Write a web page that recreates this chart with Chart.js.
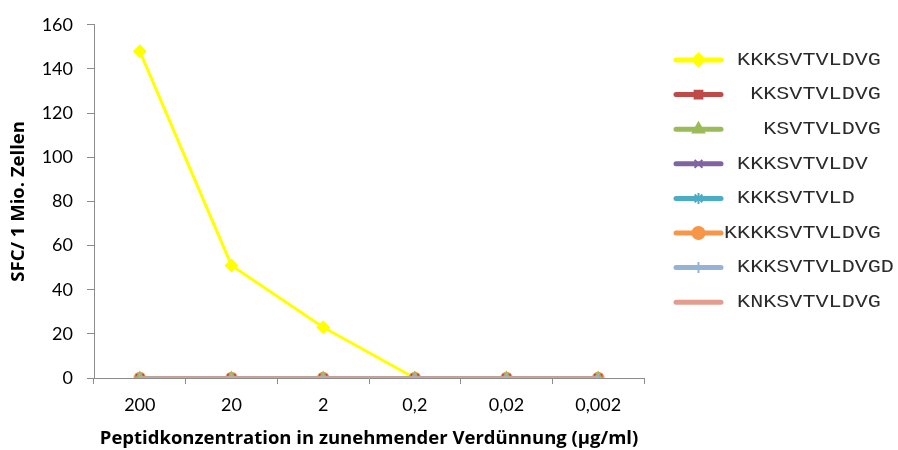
<!DOCTYPE html>
<html>
<head>
<meta charset="utf-8">
<script src="https://cdn.jsdelivr.net/npm/chart.js@4"></script>
<style>
  html, body { margin: 0; padding: 0; background: #fff; }
  #wrap { width: 898px; height: 450px; position: relative; }
</style>
</head>
<body>
<div id="wrap"><canvas id="c" width="898" height="450"></canvas></div>
<script>
// Peptide concentrations (µg/ml), decreasing by serial dilution
const concentrations = ['200', '20', '2', '0,2', '0,02', '0,002'];

// Peptide names (leading spaces keep the legend column layout)
const peptides = [
  ' KKKSVTVLDVG',
  '  KKSVTVLDVG',
  '   KSVTVLDVG',
  ' KKKSVTVLDV',
  ' KKKSVTVLD',
  'KKKKSVTVLDVG',
  ' KKKSVTVLDVGD',
  ' KNKSVTVLDVG'
];

// SFC per 1 million cells
const kkksvtvldvg   = [148, 51, 23, 0, 0, 0];
const kksvtvldvg    = [0, 0, 0, 0, 0, 0];
const ksvtvldvg     = [0, 0, 0, 0, 0, 0];
const kkksvtvldv    = [0, 0, 0, 0, 0, 0];
const kkksvtvld     = [0, 0, 0, 0, 0, 0];
const kkkksvtvldvg  = [0, 0, 0, 0, 0, 0];
const kkksvtvldvgd  = [0, 0, 0, 0, 0, 0];
const knksvtvldvg   = [0, 0, 0, 0, 0, 0];

const yTicks = [0, 20, 40, 60, 80, 100, 120, 140, 160];

const seriesValues = [kkksvtvldvg, kksvtvldvg, ksvtvldvg, kkksvtvldv,
                      kkksvtvld, kkkksvtvldvg, kkksvtvldvgd, knksvtvldvg];
const colors  = ['#FFFF00', '#BE4B48', '#9BBB59', '#8064A2', '#4BACC6', '#F79646', '#95B3D7', '#E39D8F'];
const markers = ['rectRot', 'rect', 'triangle', 'crossRot', 'star', 'circle', 'cross', false];
const radii   = [6, 5, 6, 5, 5, 5.5, 5, 0];
// painting sequence: first entry is painted first (lowest)
const paintSeq = [0, 5, 3, 4, 1, 2, 6, 7];

const datasets = peptides.map((name, i) => ({
  label: name,
  data: seriesValues[i],
  borderColor: colors[i],
  backgroundColor: colors[i],
  pointBackgroundColor: colors[i],
  pointBorderColor: colors[i],
  pointStyle: markers[i],
  pointRadius: radii[i],
  pointBorderWidth: 1.5,
  borderWidth: 3,
  tension: 0,
  order: peptides.length - paintSeq.indexOf(i)
}));

// legend column on the right: line sample with marker, then monospace name
const sideLegend = {
  id: 'sideLegend',
  afterDraw(chart) {
    const ctx = chart.ctx;
    const x0 = 676, x1 = 721, tx = 724, y0 = 60, step = 34.6;
    ctx.save();
    chart.data.datasets.forEach((ds, i) => {
      const y = y0 + i * step;
      ctx.strokeStyle = ds.borderColor;
      ctx.fillStyle = ds.borderColor;
      ctx.lineWidth = 5;
      ctx.lineCap = 'round';
      ctx.beginPath();
      ctx.moveTo(x0, y);
      ctx.lineTo(x1, y);
      ctx.stroke();
      if (ds.pointStyle) {
        ctx.lineWidth = 2;
        ctx.lineCap = 'butt';
        Chart.helpers.drawPoint(ctx, {
          pointStyle: ds.pointStyle,
          radius: ds.pointRadius + 0.5,
          borderWidth: 2,
          rotation: 0
        }, (x0 + x1) / 2, y);
      }
      ctx.save();
      ctx.fillStyle = '#2b2b2b';
      ctx.font = '18px "Liberation Mono", monospace';
      ctx.textBaseline = 'middle';
      ctx.translate(tx, y);
      ctx.scale(1.21, 1);
      ctx.fillText(ds.label, 0, 0);
      ctx.restore();
    });
    ctx.restore();
  }
};

function build() {
  new Chart(document.getElementById('c'), {
    type: 'line',
    data: { labels: concentrations, datasets },
    options: {
      responsive: false,
      animation: false,
      layout: { padding: { left: 0, right: 254, top: 7, bottom: 0 } },
      plugins: {
        legend: { display: false },
        tooltip: { enabled: false }
      },
      scales: {
        x: {
          offset: true,
          grid: {
            display: true,
            drawOnChartArea: false,
            offset: true,
            color: '#8c8c8c',
            tickLength: 6
          },
          border: { color: '#8c8c8c', width: 1 },
          ticks: {
            color: '#000',
            font: { family: 'Lato', size: 18 },
            padding: 10,
            maxRotation: 0
          },
          title: {
            display: true,
            text: 'Peptidkonzentration in zunehmender Verdünnung (µg/ml)',
            color: '#000',
            font: { family: 'Open Sans', size: 18.5, weight: 'bold' },
            padding: { top: 3, bottom: 0 }
          },
          afterFit(scale) { scale.height = 72; }
        },
        y: {
          min: 0,
          max: 160,
          afterBuildTicks(scale) { scale.ticks = yTicks.map(v => ({ value: v })); },
          grid: {
            display: true,
            drawOnChartArea: false,
            color: '#8c8c8c',
            tickLength: 7
          },
          border: { color: '#8c8c8c', width: 1 },
          ticks: {
            color: '#000',
            font: { family: 'Lato', size: 18 },
            padding: 14
          },
          title: {
            display: true,
            text: 'SFC/ 1 Mio. Zellen',
            color: '#000',
            font: { family: 'Open Sans', size: 18.5, weight: 'bold' },
            padding: { top: 8, bottom: 0 }
          },
          afterFit(scale) { scale.width = 94; }
        }
      }
    },
    plugins: [sideLegend]
  });
}

Promise.all([
  document.fonts.load('18px "Liberation Mono"'),
  document.fonts.load('18px Lato'),
  document.fonts.load('bold 18.5px "Open Sans"')
]).then(build, build);
</script>
</body>
</html>
